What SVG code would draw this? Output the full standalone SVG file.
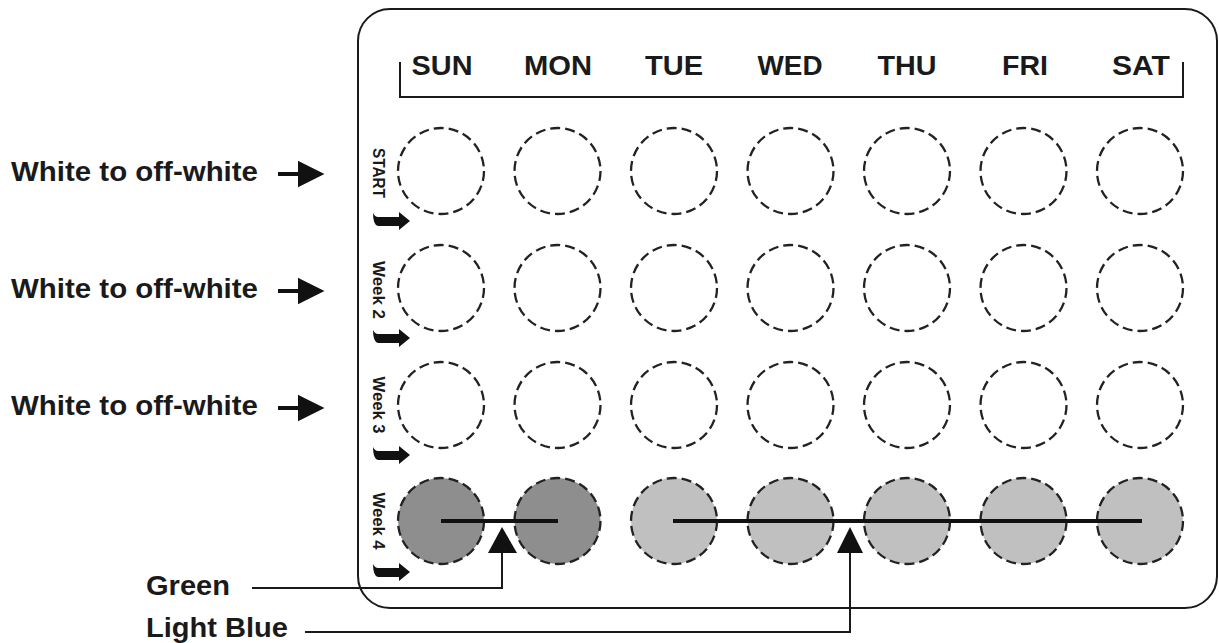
<svg xmlns="http://www.w3.org/2000/svg" width="1219" height="643" viewBox="0 0 1219 643">
<defs>
<style>
text{font-family:"Liberation Sans",Arial,sans-serif;font-weight:bold;fill:#1a1a1a}
.day{font-size:28px;text-anchor:middle}
.lbl{font-size:27px}
.wk{font-size:17px;text-anchor:middle}
.pill{fill:#fff;stroke:#222;stroke-width:2.3;stroke-dasharray:10 5}
.g{fill:#8e8e8e}
.b{fill:#c0c0c0}
.ln{fill:none;stroke:#1a1a1a;stroke-width:2}
.bar{stroke:#111;stroke-width:4}
.ah{fill:#111}
</style>
<path id="tarrow" d="M0,-8 Q2,-4 5,-4 L26,-4 L26,-9 L37,0 L26,9 L26,5 L5,5 Q0,4 0,-8 Z" fill="#111"/>
<path id="larrow" d="M0,0 L24,0 M22,-10 L42,0 L22,10 Z" stroke="#111" stroke-width="4" fill="#111"/>
</defs>
<rect width="1219" height="643" fill="#fff"/>

<g id="pack">
<rect x="358" y="9" width="859" height="599" rx="32" ry="32" fill="none" stroke="#1a1a1a" stroke-width="2"/>
<path class="ln" d="M400,62 V97 H1183 V62"/>
<text class="day" x="442" y="75" textLength="61" lengthAdjust="spacingAndGlyphs">SUN</text>
<text class="day" x="558" y="75" textLength="68" lengthAdjust="spacingAndGlyphs">MON</text>
<text class="day" x="674" y="75" textLength="58" lengthAdjust="spacingAndGlyphs">TUE</text>
<text class="day" x="790" y="75" textLength="65" lengthAdjust="spacingAndGlyphs">WED</text>
<text class="day" x="907" y="75" textLength="59" lengthAdjust="spacingAndGlyphs">THU</text>
<text class="day" x="1025" y="75" textLength="46" lengthAdjust="spacingAndGlyphs">FRI</text>
<text class="day" x="1141" y="75" textLength="58" lengthAdjust="spacingAndGlyphs">SAT</text>
</g>

<g id="week-labels">
<text class="wk" transform="translate(373,173) rotate(90)" textLength="50" lengthAdjust="spacingAndGlyphs">START</text>
<text class="wk" transform="translate(373,290) rotate(90)" textLength="58" lengthAdjust="spacingAndGlyphs">Week 2</text>
<text class="wk" transform="translate(373,405) rotate(90)" textLength="57" lengthAdjust="spacingAndGlyphs">Week 3</text>
<text class="wk" transform="translate(373,521) rotate(90)" textLength="57" lengthAdjust="spacingAndGlyphs">Week 4</text>
<use href="#tarrow" x="373" y="221"/>
<use href="#tarrow" x="373" y="338"/>
<use href="#tarrow" x="373" y="455"/>
<use href="#tarrow" x="373" y="572"/>
</g>

<g id="row1">
<circle class="pill" cx="441" cy="171" r="43"/><circle class="pill" cx="557.5" cy="171" r="43"/><circle class="pill" cx="674" cy="171" r="43"/><circle class="pill" cx="790.5" cy="171" r="43"/><circle class="pill" cx="907" cy="171" r="43"/><circle class="pill" cx="1023.5" cy="171" r="43"/><circle class="pill" cx="1140" cy="171" r="43"/>
</g>
<g id="row2">
<circle class="pill" cx="441" cy="288" r="43"/><circle class="pill" cx="557.5" cy="288" r="43"/><circle class="pill" cx="674" cy="288" r="43"/><circle class="pill" cx="790.5" cy="288" r="43"/><circle class="pill" cx="907" cy="288" r="43"/><circle class="pill" cx="1023.5" cy="288" r="43"/><circle class="pill" cx="1140" cy="288" r="43"/>
</g>
<g id="row3">
<circle class="pill" cx="441" cy="405" r="43"/><circle class="pill" cx="557.5" cy="405" r="43"/><circle class="pill" cx="674" cy="405" r="43"/><circle class="pill" cx="790.5" cy="405" r="43"/><circle class="pill" cx="907" cy="405" r="43"/><circle class="pill" cx="1023.5" cy="405" r="43"/><circle class="pill" cx="1140" cy="405" r="43"/>
</g>
<g id="row4">
<circle class="pill g" cx="441" cy="521" r="43"/><circle class="pill g" cx="557.5" cy="521" r="43"/><circle class="pill b" cx="674" cy="521" r="43"/><circle class="pill b" cx="790.5" cy="521" r="43"/><circle class="pill b" cx="907" cy="521" r="43"/><circle class="pill b" cx="1023.5" cy="521" r="43"/><circle class="pill b" cx="1140" cy="521" r="43"/>
</g>

<g id="left-labels">
<text class="lbl" x="11" y="181" textLength="247" lengthAdjust="spacingAndGlyphs">White to off-white</text>
<text class="lbl" x="11" y="298" textLength="247" lengthAdjust="spacingAndGlyphs">White to off-white</text>
<text class="lbl" x="11" y="415" textLength="247" lengthAdjust="spacingAndGlyphs">White to off-white</text>
<use href="#larrow" x="278" y="174"/>
<use href="#larrow" x="278" y="291"/>
<use href="#larrow" x="278" y="408"/>
<text class="lbl" x="146" y="595" textLength="84" lengthAdjust="spacingAndGlyphs">Green</text>
<text class="lbl" x="146" y="637" textLength="142" lengthAdjust="spacingAndGlyphs">Light Blue</text>
</g>

<g id="connectors">
<line class="bar" x1="441" y1="521" x2="558" y2="521"/>
<line class="bar" x1="673" y1="521" x2="1142" y2="521"/>
<polygon class="ah" points="502,527 488,553 517,553"/>
<polygon class="ah" points="850,527 837,553 863,553"/>
<path class="ln" d="M252,588 H502 V553"/>
<path class="ln" d="M305,632 H850 V553"/>
</g>
</svg>
